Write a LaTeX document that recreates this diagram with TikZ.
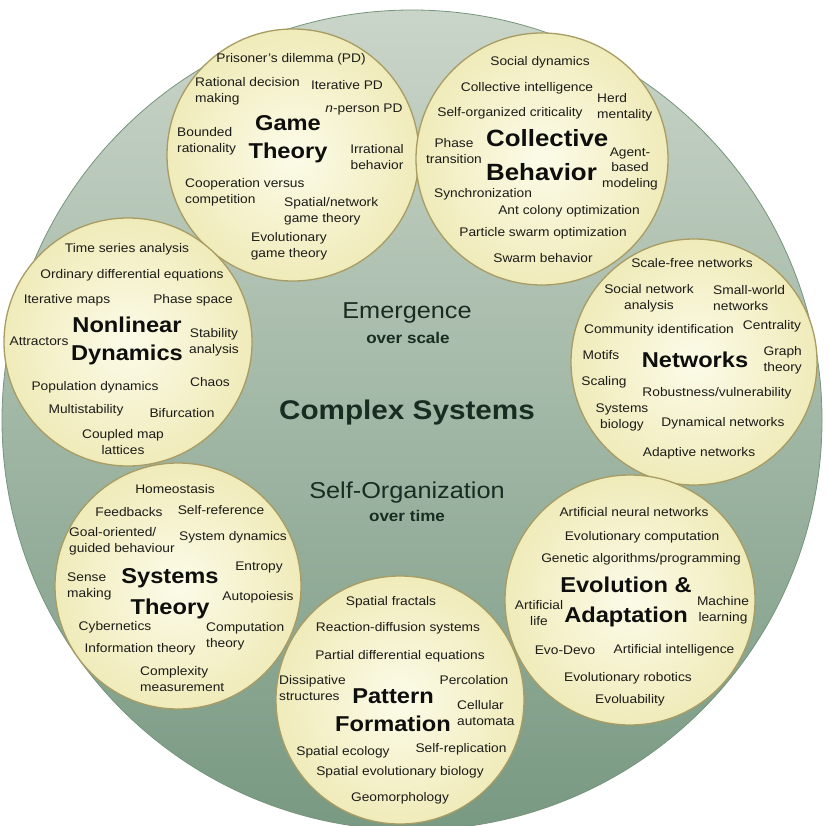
\documentclass[tikz,border=0pt]{standalone}
\usepackage{fontspec}
\setmainfont{Liberation Sans}[FakeStretch=1.1]
\definecolor{bigtop}{RGB}{202,213,201}
\definecolor{bigbot}{RGB}{120,153,130}
\definecolor{bigedge}{RGB}{118,148,124}
\definecolor{bubblein}{RGB}{252,251,232}
\definecolor{bubbleout}{RGB}{240,235,186}
\definecolor{bubbleedge}{RGB}{168,156,98}
\definecolor{itemtext}{RGB}{28,28,24}
\definecolor{titletext}{RGB}{14,14,12}
\definecolor{centertext}{RGB}{24,44,34}
\begin{document}
\begin{tikzpicture}[x=1pt,y=-1pt,
  bubble/.style={circle, draw=bubbleedge, line width=1.3pt, inner color=bubblein, outer color=bubbleout, minimum size=#1, inner sep=0pt},
  item/.style={inner sep=0pt, align=center, text=itemtext, font=\fontsize{12.5}{16}\selectfont},
  iteml/.style={item, align=left, anchor=west},
  itemr/.style={item, align=right, anchor=east},
  topic/.style={inner sep=0pt, align=center, text=titletext, font=\bfseries\fontsize{21.5}{#1}\selectfont},
  ctext/.style={inner sep=0pt, text=centertext}]
\useasboundingbox (0,0) rectangle (829,826);
% outer circle
\node[circle, minimum size=820pt, inner sep=0pt, top color=bigtop, bottom color=bigbot, draw=bigedge, line width=0.8pt] (big) at (412,420) {};
% bubbles
\node[bubble=252pt] (gameC) at (293,155) {};
\node[bubble=252pt] (collC) at (542,159) {};
\node[bubble=248pt] (nonC) at (128,342) {};
\node[bubble=246pt] (netC) at (694,362) {};
\node[bubble=246pt] (sysC) at (178,586) {};
\node[bubble=250pt] (evoC) at (630,600) {};
\node[bubble=248pt] (patC) at (400,700) {};
% center texts
\node[ctext, font=\fontsize{23}{26}\selectfont] (emer) at (407,313) {Emergence};
\node[ctext, font=\bfseries\fontsize{15.5}{18}\selectfont] (emers) at (408,338) {over scale};
\node[ctext, font=\bfseries\fontsize{27}{30}\selectfont] (csys) at (407,413) {Complex Systems};
\node[ctext, font=\fontsize{23}{26}\selectfont] (selfo) at (407,493) {Self-Organization};
\node[ctext, font=\bfseries\fontsize{15.5}{18}\selectfont] (selfos) at (407,516) {over time};
% Game Theory
\node[item] (g1) at (291,59) {Prisoner's dilemma (PD)};
\node[iteml] (g2) at (195,91.5) {Rational decision\\making};
\node[item] (g3) at (347,85) {Iterative PD};
\node[item] (g4) at (364,109) {\textit{n}-person PD};
\node[topic=28] (gt) at (288,139) {Game\\Theory};
\node[iteml] (g5) at (177,141.5) {Bounded\\rationality};
\node[item] (g6) at (377,157.5) {Irrational\\behavior};
\node[iteml] (g7) at (185,192.5) {Cooperation versus\\competition};
\node[iteml] (g8) at (284,211) {Spatial/network\\game theory};
\node[item] (g9) at (289,246.5) {Evolutionary\\game theory};
% Collective Behavior
\node[item] (c1) at (540,62) {Social dynamics};
\node[item] (c2) at (527,88) {Collective intelligence};
\node[iteml] (c3) at (597,107.5) {Herd\\mentality};
\node[item] (c4) at (510,113) {Self-organized criticality};
\node[item] (c5) at (454,151) {Phase\\transition};
\node[topic=34, font=\bfseries\fontsize{23.5}{34}\selectfont, align=left, anchor=west] (ct) at (486,155) {Collective\\Behavior};
\node[item, font=\fontsize{12.5}{15.5}\selectfont] (c6) at (630,168.5) {Agent-\\based\\modeling};
\node[item] (c7) at (483,194) {Synchronization};
\node[item] (c8) at (569,211) {Ant colony optimization};
\node[item] (c9) at (543,233) {Particle swarm optimization};
\node[item] (c10) at (543,258) {Swarm behavior};
% Nonlinear Dynamics
\node[item] (n1) at (127,249) {Time series analysis};
\node[item] (n2) at (132,275) {Ordinary differential equations};
\node[item] (n3) at (67,300) {Iterative maps};
\node[item] (n4) at (193,300) {Phase space};
\node[topic=28] (nt) at (127,341) {Nonlinear\\Dynamics};
\node[item] (n5) at (39,341) {Attractors};
\node[item] (n6) at (214,342) {Stability\\analysis};
\node[item] (n7) at (95,387) {Population dynamics};
\node[item] (n8) at (210,382) {Chaos};
\node[item] (n9) at (86,410) {Multistability};
\node[item] (n10) at (182,413) {Bifurcation};
\node[item] (n11) at (123,442.5) {Coupled map\\lattices};
% Networks
\node[item] (w1) at (692,263) {Scale-free networks};
\node[item] (w2) at (649,298) {Social network\\analysis};
\node[iteml] (w3) at (713,298) {Small-world\\networks};
\node[item] (w4) at (659,330) {Community identification};
\node[item] (w5) at (772,326) {Centrality};
\node[item] (w6) at (601,355) {Motifs};
\node[topic=28] (wt) at (695,360) {Networks};
\node[itemr] (w7) at (802,360) {Graph\\theory};
\node[item] (w8) at (604,382) {Scaling};
\node[item] (w9) at (717,393) {Robustness/vulnerability};
\node[item] (w10) at (622,417.5) {Systems\\biology};
\node[item] (w11) at (723,423) {Dynamical networks};
\node[item] (w12) at (699,453) {Adaptive networks};
% Systems Theory
\node[item] (s1) at (175,489) {Homeostasis};
\node[item] (s2) at (129,512) {Feedbacks};
\node[item] (s3) at (221,510) {Self-reference};
\node[iteml] (s4) at (69,541) {Goal-oriented/\\guided behaviour};
\node[item] (s5) at (233,537) {System dynamics};
\node[item] (s6) at (259,567) {Entropy};
\node[iteml] (s7) at (67,586.5) {Sense\\making};
\node[topic=31] (st) at (170,593.5) {Systems\\Theory};
\node[item] (s8) at (258,597) {Autopoiesis};
\node[item] (s9) at (115,627) {Cybernetics};
\node[iteml] (s10) at (206,636) {Computation\\theory};
\node[item] (s11) at (140,649) {Information theory};
\node[iteml] (s12) at (140,679) {Complexity\\measurement};
% Evolution & Adaptation
\node[item] (e1) at (634,512) {Artificial neural networks};
\node[item] (e2) at (642,537) {Evolutionary computation};
\node[item] (e3) at (641,559) {Genetic algorithms/programming};
\node[topic=30] (et) at (626,602) {Evolution \&\\Adaptation};
\node[item] (e4) at (539,613) {Artificial\\life};
\node[item] (e5) at (723,610.5) {Machine\\learning};
\node[item] (e6) at (565,650) {Evo-Devo};
\node[item] (e7) at (674,650) {Artificial intelligence};
\node[item] (e8) at (628,678) {Evolutionary robotics};
\node[item] (e9) at (630,700) {Evoluability};
% Pattern Formation
\node[item] (p1) at (391,602) {Spatial fractals};
\node[item] (p2) at (398,628) {Reaction-diffusion systems};
\node[item] (p3) at (400,656) {Partial differential equations};
\node[iteml] (p4) at (279,688.5) {Dissipative\\structures};
\node[item] (p5) at (474,680) {Percolation};
\node[topic=28] (pt) at (393,710) {Pattern\\Formation};
\node[iteml] (p6) at (457,713.5) {Cellular\\automata};
\node[item] (p7) at (343,752) {Spatial ecology};
\node[item] (p8) at (461,749) {Self-replication};
\node[item] (p9) at (400,772) {Spatial evolutionary biology};
\node[item] (p10) at (400,798) {Geomorphology};
\end{tikzpicture}
\end{document}
